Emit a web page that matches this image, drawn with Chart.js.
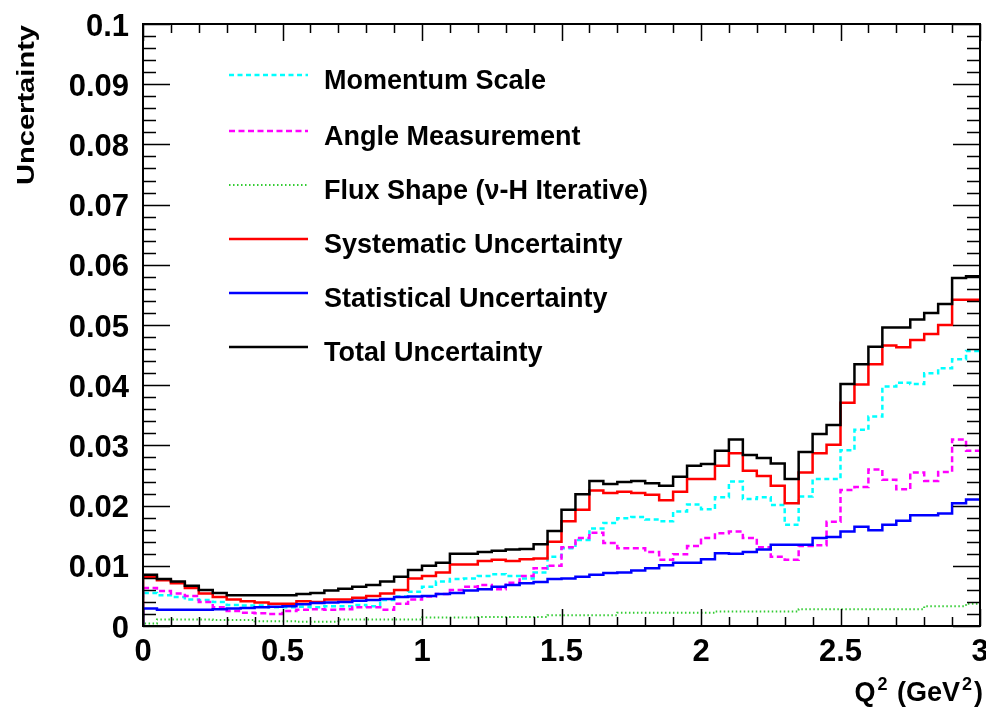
<!DOCTYPE html>
<html>
<head>
<meta charset="utf-8">
<script src="https://cdn.jsdelivr.net/npm/chart.js@4/dist/chart.umd.min.js"></script>
<style>
  html, body { margin: 0; padding: 0; background: #ffffff; }
  #wrap { width: 986px; height: 707px; }
</style>
</head>
<body>
<div id="wrap"><canvas id="chart" width="986" height="707"></canvas></div>
<script>
// Lower edges of the Q^2 bins (GeV^2); the last bin closes at q2Max.
const q2BinLow = [
  0.00, 0.05, 0.10, 0.15, 0.20, 0.25, 0.30, 0.35, 0.40, 0.45,
  0.50, 0.55, 0.60, 0.65, 0.70, 0.75, 0.80, 0.85, 0.90, 0.95,
  1.00, 1.05, 1.10, 1.15, 1.20, 1.25, 1.30, 1.35, 1.40, 1.45,
  1.50, 1.55, 1.60, 1.65, 1.70, 1.75, 1.80, 1.85, 1.90, 1.95,
  2.00, 2.05, 2.10, 2.15, 2.20, 2.25, 2.30, 2.35, 2.40, 2.45,
  2.50, 2.55, 2.60, 2.65, 2.70, 2.75, 2.80, 2.85, 2.90, 2.95
];
const q2Max = 3.0;

const xTickValues = [0, 0.5, 1, 1.5, 2, 2.5, 3];

// Per-bin uncertainties
const momentumScale = [
  0.0055, 0.0051, 0.0048, 0.0044, 0.0043, 0.0040, 0.0035, 0.0034, 0.0034, 0.0031,
  0.0031, 0.0032, 0.0031, 0.0033, 0.0033, 0.0035, 0.0033, 0.0043, 0.0049, 0.0057,
  0.0065, 0.0074, 0.0078, 0.0079, 0.0083, 0.0086, 0.0083, 0.0079, 0.0089, 0.0115,
  0.0129, 0.0143, 0.0162, 0.0171, 0.0179, 0.0181, 0.0177, 0.0174, 0.0190, 0.0202,
  0.0194, 0.0214, 0.0240, 0.0211, 0.0214, 0.0201, 0.0168, 0.0215, 0.0244, 0.0244,
  0.0292, 0.0326, 0.0348, 0.0398, 0.0404, 0.0402, 0.0420, 0.0428, 0.0443, 0.0457
];
const angleMeasurement = [
  0.0063, 0.0058, 0.0054, 0.0050, 0.0040, 0.0031, 0.0025, 0.0022, 0.0021, 0.0020,
  0.0025, 0.0027, 0.0028, 0.0027, 0.0028, 0.0031, 0.0031, 0.0027, 0.0037, 0.0044,
  0.0049, 0.0053, 0.0060, 0.0065, 0.0068, 0.0061, 0.0072, 0.0083, 0.0096, 0.0100,
  0.0131, 0.0146, 0.0155, 0.0138, 0.0129, 0.0129, 0.0123, 0.0110, 0.0119, 0.0133,
  0.0146, 0.0154, 0.0157, 0.0146, 0.0131, 0.0115, 0.0110, 0.0133, 0.0134, 0.0173,
  0.0226, 0.0231, 0.0260, 0.0243, 0.0227, 0.0255, 0.0241, 0.0256, 0.0310, 0.0291
];
const fluxShape = [
  0.0004, 0.0011, 0.0011, 0.0011, 0.0011, 0.0010, 0.0010, 0.0010, 0.0008, 0.0008,
  0.0008, 0.0007, 0.0007, 0.0007, 0.0011, 0.0011, 0.0011, 0.0011, 0.0011, 0.0011,
  0.0014, 0.0014, 0.0014, 0.0014, 0.0015, 0.0015, 0.0015, 0.0015, 0.0015, 0.0018,
  0.0018, 0.0018, 0.0018, 0.0018, 0.0022, 0.0022, 0.0022, 0.0022, 0.0022, 0.0022,
  0.0022, 0.0024, 0.0024, 0.0024, 0.0024, 0.0024, 0.0024, 0.0028, 0.0028, 0.0028,
  0.0028, 0.0028, 0.0028, 0.0028, 0.0028, 0.0028, 0.0033, 0.0033, 0.0033, 0.0037
];
const systematic = [
  0.0081, 0.0076, 0.0071, 0.0063, 0.0054, 0.0048, 0.0044, 0.0041, 0.0039, 0.0037,
  0.0037, 0.0041, 0.0040, 0.0044, 0.0044, 0.0047, 0.0050, 0.0054, 0.0060, 0.0079,
  0.0083, 0.0089, 0.0102, 0.0102, 0.0108, 0.0110, 0.0108, 0.0111, 0.0112, 0.0140,
  0.0174, 0.0193, 0.0225, 0.0221, 0.0223, 0.0221, 0.0218, 0.0209, 0.0223, 0.0244,
  0.0244, 0.0266, 0.0287, 0.0258, 0.0249, 0.0233, 0.0204, 0.0255, 0.0287, 0.0301,
  0.0371, 0.0401, 0.0435, 0.0466, 0.0463, 0.0475, 0.0485, 0.0500, 0.0542, 0.0542
];
const statistical = [
  0.0029, 0.0027, 0.0027, 0.0027, 0.0027, 0.0028, 0.0029, 0.0030, 0.0031, 0.0032,
  0.0033, 0.0036, 0.0038, 0.0039, 0.0040, 0.0042, 0.0043, 0.0045, 0.0048, 0.0049,
  0.0050, 0.0053, 0.0055, 0.0059, 0.0061, 0.0065, 0.0068, 0.0071, 0.0073, 0.0078,
  0.0079, 0.0082, 0.0085, 0.0088, 0.0089, 0.0092, 0.0096, 0.0101, 0.0105, 0.0105,
  0.0111, 0.0121, 0.0120, 0.0123, 0.0127, 0.0135, 0.0135, 0.0135, 0.0146, 0.0148,
  0.0157, 0.0165, 0.0159, 0.0168, 0.0175, 0.0184, 0.0184, 0.0187, 0.0204, 0.0210
];
const total = [
  0.0085, 0.0078, 0.0074, 0.0067, 0.0060, 0.0055, 0.0051, 0.0051, 0.0051, 0.0051,
  0.0051, 0.0053, 0.0055, 0.0059, 0.0062, 0.0065, 0.0068, 0.0074, 0.0082, 0.0093,
  0.0100, 0.0105, 0.0120, 0.0120, 0.0123, 0.0125, 0.0127, 0.0128, 0.0136, 0.0158,
  0.0193, 0.0219, 0.0241, 0.0236, 0.0239, 0.0241, 0.0237, 0.0233, 0.0248, 0.0266,
  0.0269, 0.0291, 0.0310, 0.0284, 0.0279, 0.0270, 0.0244, 0.0289, 0.0319, 0.0334,
  0.0402, 0.0435, 0.0464, 0.0496, 0.0496, 0.0509, 0.0520, 0.0535, 0.0578, 0.0581
];

// Histogram outline: rise from zero at the first edge, one step per bin,
// and carry the last bin across to the upper edge.
function histPoints(values) {
  const pts = [{ x: q2BinLow[0], y: 0 }];
  values.forEach((v, i) => pts.push({ x: q2BinLow[i], y: v }));
  pts.push({ x: q2Max, y: values[values.length - 1] });
  return pts;
}

const FONT = '"Liberation Sans", Arial, Helvetica, sans-serif';

function histDataset(label, values, color, width, dash, order) {
  return {
    label,
    data: histPoints(values),
    borderColor: color,
    borderWidth: width,
    borderDash: dash,
    borderCapStyle: 'butt',
    borderJoinStyle: 'miter',
    stepped: 'before',
    fill: false,
    pointRadius: 0,
    pointHoverRadius: 0,
    tension: 0,
    order
  };
}

// Plain number labels: 0, 0.5, 1 ... and 0, 0.01 ... 0.1
function plainLabel(v) {
  return String(Number(Number(v).toFixed(4)));
}

// Keep the plot frame fixed: no extra room for overhanging end labels
function noScalePadding(scale) {
  scale.paddingLeft = 0;
  scale.paddingRight = 0;
  scale.paddingTop = 0;
  scale.paddingBottom = 0;
}

// Frame with inward ticks on all four sides
const frameTicks = {
  id: 'frameTicks',
  afterDatasetsDraw(chart) {
    const { ctx, chartArea: a, scales: { x, y } } = chart;
    ctx.save();
    ctx.strokeStyle = '#000';
    ctx.lineWidth = 1.5;
    ctx.setLineDash([]);
    ctx.beginPath();
    for (let i = 0; i <= 30; i++) {
      const px = Math.round(x.getPixelForValue(i * 0.1)) + 0.5;
      const len = (i % 5 === 0) ? 17 : 9;
      ctx.moveTo(px, a.bottom); ctx.lineTo(px, a.bottom - len);
      ctx.moveTo(px, a.top); ctx.lineTo(px, a.top + len);
    }
    for (let j = 0; j <= 50; j++) {
      const py = Math.round(y.getPixelForValue(j * 0.002)) + 0.5;
      const len = (j % 5 === 0) ? 27 : 13;
      ctx.moveTo(a.left, py); ctx.lineTo(a.left + len, py);
      ctx.moveTo(a.right, py); ctx.lineTo(a.right - len, py);
    }
    ctx.stroke();
    ctx.lineWidth = 2;
    ctx.strokeRect(a.left, a.top, a.right - a.left, a.bottom - a.top);
    ctx.restore();
  }
};

// Legend rows inside the plot, plus the axis titles
const legendRows = [75, 131, 185, 239, 293, 347];
const annotations = {
  id: 'annotations',
  afterDraw(chart) {
    const { ctx } = chart;
    ctx.save();
    // legend: ordered as the datasets are listed
    chart.data.datasets.forEach((ds, i) => {
      const yy = legendRows[i];
      ctx.strokeStyle = ds.borderColor;
      ctx.lineWidth = ds.borderWidth;
      ctx.setLineDash(ds.borderDash || []);
      ctx.lineCap = 'butt';
      ctx.beginPath();
      ctx.moveTo(229, yy);
      ctx.lineTo(308, yy);
      ctx.stroke();
      ctx.setLineDash([]);
      ctx.fillStyle = '#000';
      ctx.font = 'bold 27px ' + FONT;
      ctx.textAlign = 'left';
      ctx.textBaseline = 'alphabetic';
      ctx.fillText(ds.label, 324, yy + 14);
    });

    // y-axis title, rotated, flush with the top of the frame
    ctx.save();
    ctx.translate(34, 25);
    ctx.rotate(-Math.PI / 2);
    ctx.font = 'bold 24px ' + FONT;
    ctx.textAlign = 'right';
    ctx.textBaseline = 'alphabetic';
    const title = 'Uncertainty';
    const w = ctx.measureText(title).width;
    ctx.scale(160 / w, 1);
    ctx.fillText(title, 0, 0);
    ctx.restore();

    // x-axis title with superscripts, right-aligned under the frame
    const parts = [
      { t: 'Q', sup: false },
      { t: '2', sup: true },
      { t: ' (GeV', sup: false },
      { t: '2', sup: true },
      { t: ')', sup: false }
    ];
    const mainFont = 'bold 27px ' + FONT;
    const supFont = 'bold 18px ' + FONT;
    let totalW = 0;
    parts.forEach(p => {
      ctx.font = p.sup ? supFont : mainFont;
      p.w = ctx.measureText(p.t).width + (p.sup ? 4 : 0);
      totalW += p.w;
    });
    let xx = 983 - totalW;
    const base = 701;
    ctx.textAlign = 'left';
    parts.forEach(p => {
      ctx.font = p.sup ? supFont : mainFont;
      ctx.fillText(p.t, xx + (p.sup ? 2 : 0), p.sup ? base - 11 : base);
      xx += p.w;
    });
    ctx.restore();
  }
};

const tickFont = { family: FONT, weight: 'bold', size: 31 };

new Chart(document.getElementById('chart'), {
  type: 'line',
  data: {
    datasets: [
      histDataset('Momentum Scale', momentumScale, '#00ffff', 2.5, [5, 3.5], 6),
      histDataset('Angle Measurement', angleMeasurement, '#ff00ff', 2.5, [6, 3.5], 5),
      histDataset('Flux Shape (\u03bd-H Iterative)', fluxShape, '#33cc33', 2, [1.5, 2.5], 4),
      histDataset('Systematic Uncertainty', systematic, '#ff0000', 2.5, [], 3),
      histDataset('Statistical Uncertainty', statistical, '#0000ff', 2.5, [], 2),
      histDataset('Total Uncertainty', total, '#000000', 2.5, [], 1)
    ]
  },
  options: {
    responsive: false,
    animation: false,
    devicePixelRatio: 1,
    layout: { autoPadding: false, padding: { left: 0, top: 24, right: 6, bottom: 0 } },
    plugins: {
      legend: { display: false },
      tooltip: { enabled: false },
      title: { display: false }
    },
    scales: {
      x: {
        type: 'linear',
        min: 0,
        max: q2Max,
        afterBuildTicks(scale) { scale.ticks = xTickValues.map(v => ({ value: v })); },
        afterFit(scale) { scale.height = 81; noScalePadding(scale); },
        grid: { display: false, drawTicks: false },
        border: { display: false },
        ticks: { font: tickFont, color: '#000', padding: 8, maxRotation: 0, autoSkip: false, callback: plainLabel }
      },
      y: {
        type: 'linear',
        min: 0,
        max: 0.1,
        afterFit(scale) { scale.width = 143; noScalePadding(scale); },
        grid: { display: false, drawTicks: false },
        border: { display: false },
        ticks: { font: tickFont, color: '#000', padding: 14, stepSize: 0.01, labelOffset: 3, autoSkip: false, callback: plainLabel }
      }
    }
  },
  plugins: [frameTicks, annotations]
});
</script>
</body>
</html>
